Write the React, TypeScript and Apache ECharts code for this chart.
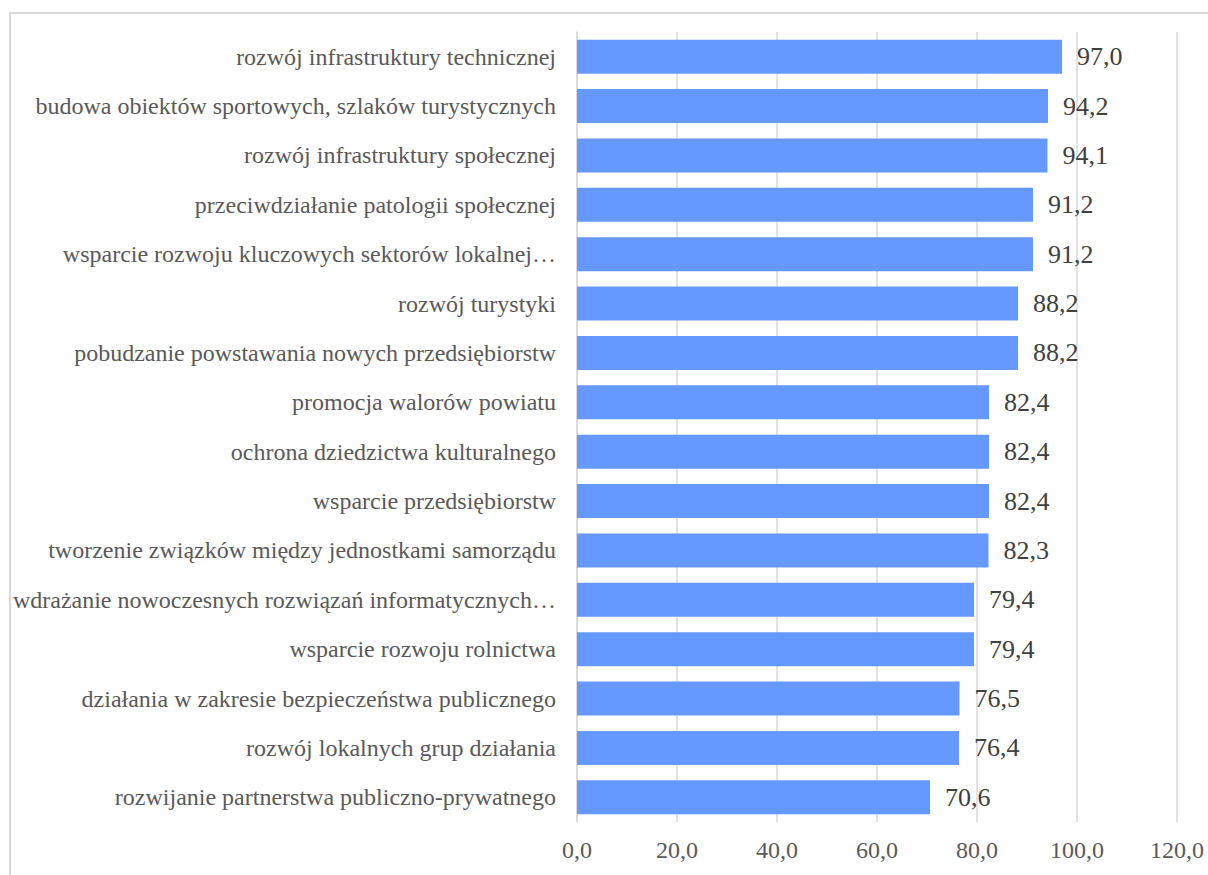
import React, { useEffect, useRef } from "react";
import * as echarts from "echarts";

const categories = [
  "rozwój infrastruktury technicznej",
  "budowa obiektów sportowych, szlaków turystycznych",
  "rozwój infrastruktury społecznej",
  "przeciwdziałanie patologii społecznej",
  "wsparcie rozwoju kluczowych sektorów lokalnej…",
  "rozwój turystyki",
  "pobudzanie powstawania nowych przedsiębiorstw",
  "promocja walorów powiatu",
  "ochrona dziedzictwa kulturalnego",
  "wsparcie przedsiębiorstw",
  "tworzenie związków między jednostkami samorządu",
  "wdrażanie nowoczesnych rozwiązań informatycznych…",
  "wsparcie rozwoju rolnictwa",
  "działania w zakresie bezpieczeństwa publicznego",
  "rozwój lokalnych grup działania",
  "rozwijanie partnerstwa publiczno-prywatnego",
];

const values = [97.0, 94.2, 94.1, 91.2, 91.2, 88.2, 88.2, 82.4, 82.4, 82.4, 82.3, 79.4, 79.4, 76.5, 76.4, 70.6];

const FONT = '"Times New Roman", "Liberation Serif", "DejaVu Serif", serif';
const fmt = (v: number) => v.toFixed(1).replace(".", ",");

export default function App() {
  const ref = useRef<HTMLDivElement>(null);
  useEffect(() => {
    if (!ref.current) return;
    const chart = echarts.init(ref.current, undefined, { renderer: "svg" });
    chart.setOption({
      animation: false,
      backgroundColor: "#ffffff",
      textStyle: { fontFamily: FONT },
      graphic: [
        {
          type: "rect",
          shape: { x: 10, y: 13, width: 1400, height: 1000 },
          style: { fill: "none", stroke: "#d9d9d9", lineWidth: 2 },
          silent: true,
        },
      ],
      grid: { left: 577, right: 31, top: 32, bottom: 53, containLabel: false },
      xAxis: {
        type: "value",
        min: 0,
        max: 120,
        interval: 20,
        axisLine: { show: false },
        axisTick: { show: false },
        splitLine: { show: true, lineStyle: { color: "#d9d9d9", width: 1.5 } },
        axisLabel: {
          formatter: (v: number) => fmt(v),
          fontFamily: FONT,
          fontSize: 24,
          color: "#595959",
          margin: 16,
        },
      },
      yAxis: {
        type: "category",
        inverse: true,
        data: categories,
        axisLine: { show: true, lineStyle: { color: "#d9d9d9", width: 1.5 } },
        axisTick: { show: false },
        axisLabel: {
          fontFamily: FONT,
          fontSize: 24,
          color: "#595959",
          margin: 21,
        },
      },
      series: [
        {
          type: "bar",
          data: values,
          barWidth: 34,
          itemStyle: { color: "#6699ff" },
          label: {
            show: true,
            position: "right",
            distance: 15,
            formatter: (p: any) => fmt(p.value),
            fontFamily: FONT,
            fontSize: 26,
            color: "#404040",
          },
        },
      ],
    });
    return () => chart.dispose();
  }, []);
  return (
    <div style={{ position: "absolute", left: 0, top: 0, width: 1208, height: 875, overflow: "hidden" }}>
      <div ref={ref} style={{ width: 1208, height: 875 }} />
    </div>
  );
}
